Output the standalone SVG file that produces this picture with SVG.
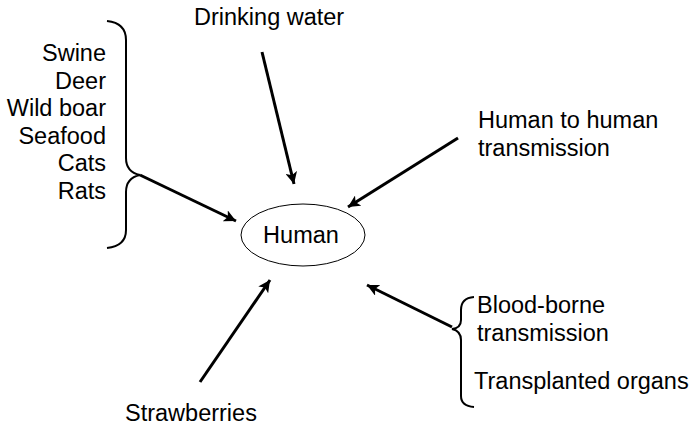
<svg xmlns="http://www.w3.org/2000/svg" width="691" height="428" viewBox="0 0 691 428">
<style>
text{font-family:"Liberation Sans",Arial,sans-serif;font-size:23.5px;fill:#000}
.arr{stroke:#000;stroke-width:3;fill:none;marker-end:url(#ah)}
.br{stroke:#000;stroke-width:2;fill:none}
</style>
<defs>
<marker id="ah" markerUnits="userSpaceOnUse" markerWidth="14" markerHeight="12" refX="12" refY="6" orient="auto">
<path d="M0,0 L12,6 L0,12 L3,6 Z" fill="#000"/>
</marker>
</defs>
<rect width="691" height="428" fill="#fff"/>
<g id="connectors">
<line class="arr" x1="140" y1="175" x2="236" y2="221"/>
<line class="arr" x1="262" y1="52" x2="294" y2="184"/>
<line class="arr" x1="458" y1="138" x2="348" y2="207"/>
<line class="arr" x1="200" y1="382" x2="270" y2="280"/>
<line class="arr" x1="452" y1="327" x2="367" y2="285"/>
</g>
<g id="human">
<ellipse cx="303" cy="235" rx="62" ry="31" fill="#fff" stroke="#000" stroke-width="1"/>
<text x="301" y="243" text-anchor="middle">Human</text>
</g>
<g id="animals">
<path class="br" d="M107,21 Q126,23 126,40 L126,158 Q126,172 140,175 Q126,178 126,192 L126,230 Q126,246 107,248"/>
<text x="106" y="61" text-anchor="end">Swine</text>
<text x="106" y="88.5" text-anchor="end">Deer</text>
<text x="106" y="116" text-anchor="end">Wild boar</text>
<text x="106" y="143.5" text-anchor="end">Seafood</text>
<text x="106" y="171" text-anchor="end">Cats</text>
<text x="106" y="198.5" text-anchor="end">Rats</text>
</g>
<g id="drinking-water">
<text x="194" y="25">Drinking water</text>
</g>
<g id="human-to-human">
<text x="478" y="128">Human to human</text>
<text x="478" y="156">transmission</text>
</g>
<g id="blood">
<path class="br" d="M474,297 Q461,298 461,310 L461,320 Q461,328 452,329 Q461,331 461,340 L461,396 Q461,406 474,407"/>
<text x="477" y="313">Blood-borne</text>
<text x="477" y="341">transmission</text>
<text x="474" y="389">Transplanted organs</text>
</g>
<g id="strawberries">
<text x="125" y="421">Strawberries</text>
</g>
</svg>
